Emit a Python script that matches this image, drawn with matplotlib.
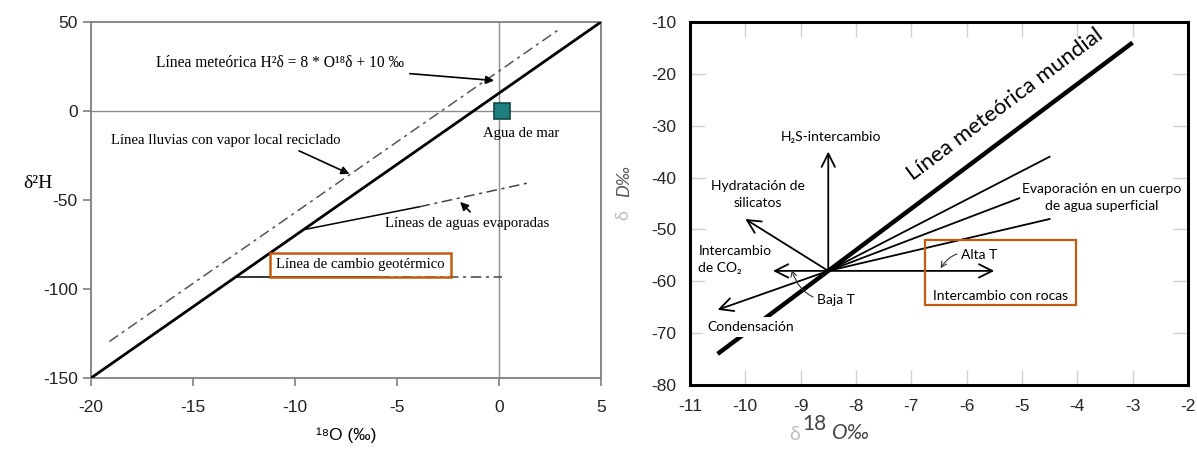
import numpy as np
import matplotlib

matplotlib.use("Agg")
import matplotlib.pyplot as plt
from matplotlib.patches import Rectangle

plt.rcParams["axes.unicode_minus"] = False

# ---- left panel data (delta18O, delta2H) ----
met_x = [-20, 5]
met_y = [-150, 50]
local_x = [-19.1, 2.9]
local_y = [-129.5, 45.5]
evap_x = [-9.5, -3.9, 1.4]
evap_y = [-66.5, -53.8, -40.5]
geo_x = [-12.9, -5.9, 0.15]
geo_y = [-93.4, -93.4, -93.4]
sea_x, sea_y = 0.15, 0.0
left_xticks = [-20, -15, -10, -5, 0, 5]
left_yticks = [-150, -100, -50, 0, 50]

# ---- right panel data ----
wml_x = [-10.5, -3]
wml_y = [-74, -14]
center = (-8.5, -58)
arrow_ends = {
    "h2s": (-8.5, -35),
    "hidr": (-10.0, -48),
    "co2": (-9.5, -58),
    "cond": (-10.5, -65.5),
    "rocas": (-5.5, -58),
}
evap_ends_x = [-4.5, -5.05, -4.5]
evap_ends_y = [-36, -44, -48]
right_xticks = list(range(-11, -1))
right_yticks = list(range(-80, 0, 10))

ORANGE = "#c55a11"
SERIF = ["Liberation Serif", "DejaVu Serif"]
CAL = ["Lato", "DejaVu Sans"]

fig = plt.figure(figsize=(11.97, 4.5), dpi=100)

# ================= left panel =================
ax1 = fig.add_axes([0.076, 0.16, 0.426, 0.791])
ax1.set_xlim(-20, 5)
ax1.set_ylim(-150, 50)
for s in ax1.spines.values():
    s.set_color("#7f7f7f")
    s.set_linewidth(1.3)
ax1.axhline(0, color="#8c8c8c", lw=1.0, zorder=1)
ax1.axvline(0, color="#8c8c8c", lw=1.0, zorder=1)
ax1.set_xticks(left_xticks)
ax1.set_yticks(left_yticks)
ax1.tick_params(direction="out", length=6, width=1.2, color="#7f7f7f",
                labelsize=12.5, labelcolor="#222222")
ax1.tick_params(axis="x", pad=10)
for lab in ax1.get_xticklabels() + ax1.get_yticklabels():
    lab.set_family(["Liberation Sans Narrow", "Liberation Sans"])

ax1.plot(met_x, met_y, color="black", lw=2.0, zorder=3)
ax1.plot(local_x, local_y, color="#555555", lw=1.1, dashes=(7, 3, 2, 3), zorder=3)
ax1.plot(evap_x[:2], evap_y[:2], color="black", lw=1.1, zorder=3)
ax1.plot(evap_x[1:], evap_y[1:], color="#444444", lw=1.1, dashes=(7, 3, 2, 3), zorder=3)
ax1.plot(geo_x[:2], geo_y[:2], color="black", lw=1.1, zorder=3)
ax1.plot(geo_x[1:], geo_y[1:], color="#444444", lw=1.1, dashes=(7, 3, 2, 3), zorder=3)
ax1.plot([sea_x], [sea_y], marker="s", ms=11, mfc="#1f7f7f", mec="#124848",
         mew=1.2, zorder=4)

arr = dict(arrowstyle="-|>", color="black", lw=1.2, mutation_scale=12)
ax1.annotate("Línea meteórica H²δ = 8 * O¹⁸δ + 10 ‰", xy=(-0.1, 17), xytext=(-16.8, 27),
             ha="left", va="center", family=SERIF, fontsize=11.2, arrowprops=arr)
ax1.annotate("Línea lluvias con vapor local reciclado", xy=(-7.2, -36),
             xytext=(-19.0, -16.5), ha="left", va="center", family=SERIF,
             fontsize=10.6, arrowprops=dict(arr, relpos=(0.78, 0.0)))
ax1.annotate("Líneas de aguas evaporadas", xy=(-2.0, -50), xytext=(-5.6, -63),
             ha="left", va="center", family=SERIF, fontsize=10.6,
             arrowprops=dict(arr, relpos=(0.55, 1.0)))
ax1.text(1.1, -12.5, "Agua de mar", ha="center", va="center", family=SERIF,
         fontsize=10.6)
ax1.text(-6.8, -86.4, "Línea de cambio geotérmico", ha="center", va="center",
         family=SERIF, fontsize=10.6, zorder=5)
ax1.add_patch(Rectangle((-11.2, -93.1), 8.85, 13.6, fill=False, ec=ORANGE,
                        lw=1.8, zorder=5))
ax1.set_xlabel("¹⁸O (‰)", family=["Liberation Sans Narrow", "Liberation Sans", "DejaVu Sans"],
               fontsize=12.5, labelpad=9)
fig.text(0.032, 0.593, "δ²H", family=SERIF, fontsize=14, ha="center", va="center")

# ================= right panel =================
ax2 = fig.add_axes([0.5764, 0.1444, 0.416, 0.807])
ax2.set_xlim(-11, -2)
ax2.set_ylim(-80, -10)
for s in ax2.spines.values():
    s.set_color("black")
    s.set_linewidth(2.2)
ax2.set_xticks(right_xticks)
ax2.set_yticks(right_yticks)
ax2.tick_params(direction="in", length=11, width=1.0, color="#d0d0d0",
                top=True, right=True, labelsize=12.5, labelcolor="#262626", pad=10)
for lab in ax2.get_xticklabels() + ax2.get_yticklabels():
    lab.set_family("Liberation Sans")

ax2.plot(wml_x, wml_y, color="black", lw=3.2, solid_capstyle="butt", zorder=3)
cx, cy = center
for ex, ey in zip(evap_ends_x, evap_ends_y):
    ax2.plot([cx, ex], [cy, ey], color="black", lw=1.3, zorder=3)
open_arr = dict(arrowstyle="->", color="black", lw=1.3, mutation_scale=24,
                shrinkA=0, shrinkB=0)
for key, (ex, ey) in arrow_ends.items():
    ax2.annotate("", xy=(ex, ey), xytext=center, arrowprops=open_arr, zorder=3)

ax2.text(-5.3, -26.0, "Línea meteórica mundial", rotation=np.degrees(np.arctan(8)),
         transform_rotates_text=True, rotation_mode="anchor", ha="center", va="center",
         family=CAL, fontsize=16)
ax2.text(-8.45, -32.2, "H₂S-intercambio", ha="center", va="center", family=CAL, fontsize=10)
ax2.text(-9.77, -43.3, "Hydratación de\nsilicatos", ha="center", va="center",
         family=CAL, fontsize=10, linespacing=1.5)
ax2.text(-10.85, -55.8, "Intercambio\nde CO₂", ha="left", va="center",
         family=CAL, fontsize=10, linespacing=1.5)
ax2.text(-9.9, -68.8, "Condensación", ha="center", va="center", family=CAL,
         fontsize=10, zorder=5,
         bbox=dict(fc="white", ec="none", pad=3))
ax2.text(-3.55, -43.8, "Evaporación en un cuerpo\nde agua superficial", ha="center",
         va="center", family=CAL, fontsize=10, linespacing=1.5)
ax2.text(-5.38, -62.8, "Intercambio con rocas", ha="center", va="center",
         family=CAL, fontsize=10)
thin = dict(arrowstyle="->", color="#333333", lw=0.8, mutation_scale=10,
            shrinkA=1, shrinkB=0)
ax2.annotate("Alta T", xy=(-6.47, -57.5), xytext=(-6.1, -54.9), ha="left",
             va="center", family=CAL, fontsize=10,
             arrowprops=dict(thin, connectionstyle="arc3,rad=0.4"))
ax2.annotate("Baja T", xy=(-9.16, -57.8), xytext=(-8.7, -63.7), ha="left",
             va="center", family=CAL, fontsize=10,
             arrowprops=dict(thin, connectionstyle="arc3,rad=-0.4"))
ax2.add_patch(Rectangle((-6.76, -64.6), 2.74, 12.6, fill=False, ec=ORANGE,
                        lw=1.6, zorder=5))

# axis labels: light delta plus dark italic symbol
fig.text(0.659, 0.022, "δ", color="#bdbdbd", fontsize=14, family=CAL, ha="left")
fig.text(0.670, 0.045, "18", color="#444444", fontsize=15, family=CAL, ha="left")
fig.text(0.695, 0.025, "O‰", color="#444444", fontsize=15, family=CAL,
         style="italic", ha="left")
fig.text(0.521, 0.522, "δ", color="#bdbdbd", fontsize=13, family=CAL, rotation=90,
         va="center", ha="center")
fig.text(0.521, 0.598, "D‰", color="#555555", fontsize=13, family=CAL, rotation=90,
         style="italic", va="center", ha="center")

fig.savefig("out.png", dpi=100)
